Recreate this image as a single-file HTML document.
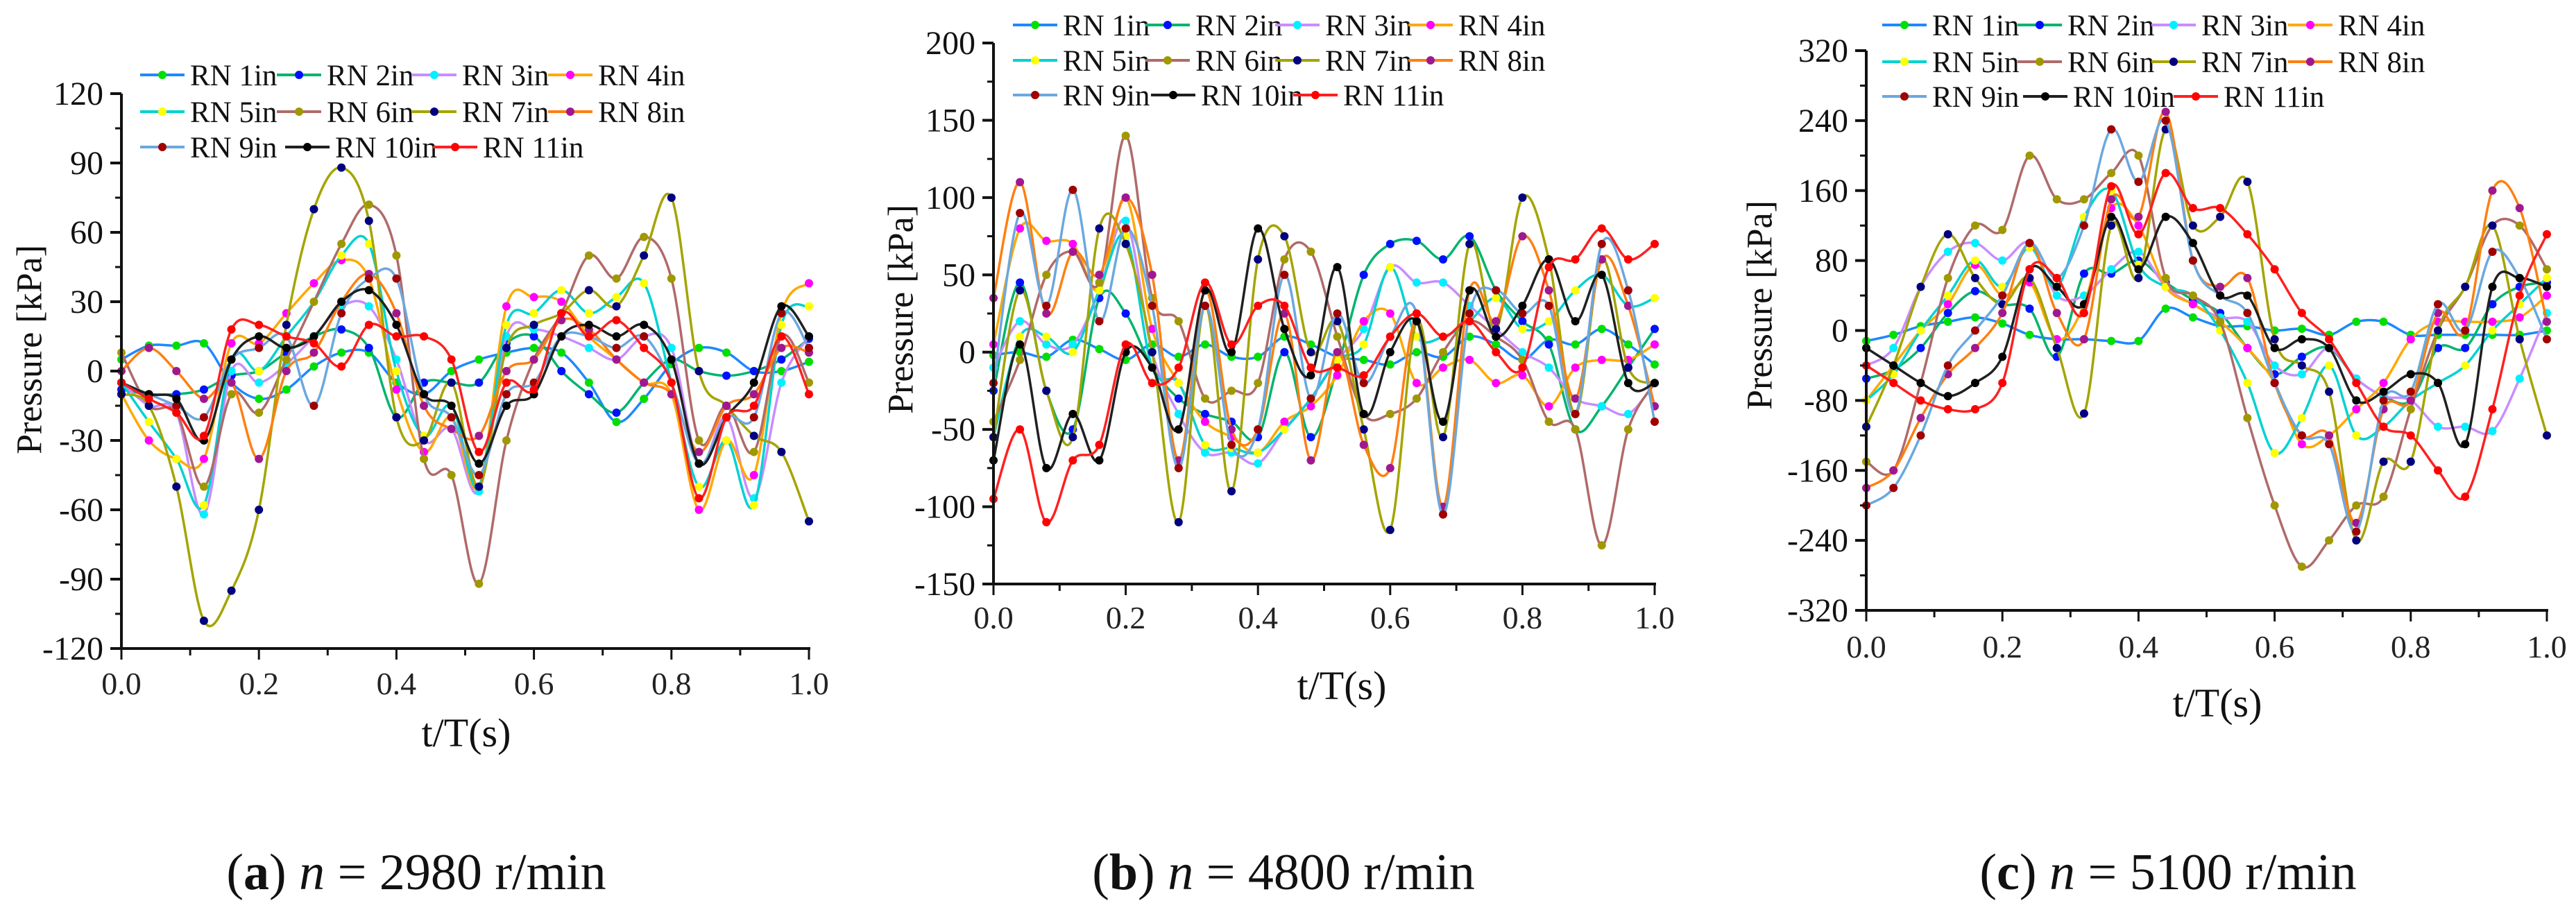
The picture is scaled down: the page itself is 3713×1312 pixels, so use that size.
<!DOCTYPE html>
<html><head><meta charset="utf-8"><style>
html,body{margin:0;padding:0;background:#fff;}
svg{display:block;font-family:"Liberation Serif",serif;}
</style></head><body>
<svg id="fig" width="3713" height="1312" viewBox="0 0 3713 1312" xmlns="http://www.w3.org/2000/svg"></svg>
<script>
// shared time samples (t/T)
const tValues = [0,.04,.08,.12,.16,.2,.24,.28,.32,.36,.4,.44,.48,.52,.56,.6,.64,.68,.72,.76,.8,.84,.88,.92,.96,1];
const seriesNames = ["RN 1in","RN 2in","RN 3in","RN 4in","RN 5in","RN 6in","RN 7in","RN 8in","RN 9in","RN 10in","RN 11in"];
const xTickLabels = ["0.0","0.2","0.4","0.6","0.8","1.0"];
const yTicksA = [-120,-90,-60,-30,0,30,60,90,120];
const yTicksB = [-150,-100,-50,0,50,100,150,200];
const yTicksC = [-320,-240,-160,-80,0,80,160,240,320];
// panel (a) n=2980
const a1 = [5,11,11,12,-5,-12,-8,2,8,8,-5,-10,0,5,8,10,8,-5,-22,-12,3,10,8,0,0,4];
const a2 = [-8,-10,-10,-8,-2,0,8,15,18,10,-20,-5,-5,-5,12,15,0,-10,-18,-5,5,0,-2,0,5,14];
const a3 = [-5,-15,-18,-62,0,-5,3,15,28,28,5,-30,-25,-52,15,18,15,10,5,15,10,-40,-20,-55,-5,15];
const a4 = [-10,-30,-38,-38,12,12,25,38,48,40,-8,-35,-20,-50,28,32,30,15,5,-5,-10,-60,-30,-45,25,38];
const a5 = [-5,-22,-38,-58,5,0,15,30,50,55,0,-28,-15,-50,20,25,35,25,32,38,-5,-50,-30,-58,20,28];
const a6 = [8,-15,-18,-50,-10,-18,5,30,55,72,50,-38,-45,-92,-30,5,25,50,40,58,40,-30,-15,-35,15,-5];
const a7 = [-10,-15,-50,-108,-95,-60,20,70,88,65,-20,-30,-5,-50,10,20,25,35,28,50,75,0,-15,-28,-35,-65];
const a8 = [0,10,0,-12,-5,-38,0,8,30,42,25,-15,-25,-28,0,5,22,18,5,-5,-10,-35,-15,-10,10,8];
const a9 = [-5,-10,-15,-20,5,10,15,-15,25,40,40,-10,-20,-45,-10,-5,15,15,10,15,-5,-40,-20,-20,25,10];
const a10 = [-5,-10,-12,-30,5,15,10,15,30,35,20,-10,-15,-40,-15,-10,15,20,15,20,5,-40,-20,-5,28,15];
const a11 = [-5,-12,-18,-28,18,20,15,12,2,20,15,15,5,-35,-5,-8,25,15,22,10,-5,-55,-20,-15,15,-10];
// panel (b) n=4800
const b1 = [-2,0,-3,8,2,-5,5,-3,5,-3,-3,10,5,-3,-5,-8,0,-3,10,5,-5,8,5,15,5,-8];
const b2 = [-25,45,-25,-50,35,25,-10,-30,-40,-45,-55,0,-55,-10,50,70,72,60,75,40,20,5,-50,-35,-10,15];
const b3 = [-10,20,5,5,40,85,0,-40,-65,-65,-72,-50,-30,-5,15,55,45,45,30,15,0,-10,-30,-35,-40,-20];
const b4 = [5,80,72,70,40,100,15,-20,-45,-55,-65,-45,-35,-15,20,25,-20,-10,-5,-20,-15,-35,-10,-5,-5,5];
const b5 = [-55,10,10,0,40,75,-10,-20,-60,-62,-65,-50,-30,-5,5,55,10,10,20,35,15,20,40,50,30,35];
const b6 = [-45,-5,50,65,45,140,35,20,-30,-25,-20,60,65,10,-40,-40,-30,0,20,10,-5,-45,-50,-125,-50,-20];
const b7 = [-55,40,-25,-55,80,70,0,-110,30,-90,60,75,0,20,-50,-115,20,-55,70,15,100,60,-40,60,-10,-20];
const b8 = [35,110,25,65,50,100,50,-70,40,-50,-50,25,-70,0,-60,-75,20,-100,40,20,75,40,-30,60,30,-35];
const b9 = [-20,90,30,105,20,80,30,-75,30,-60,-50,50,-30,25,-20,10,25,-105,25,40,25,30,-40,70,40,-45];
const b10 = [-70,5,-75,-40,-70,0,-10,-50,40,0,80,15,-15,55,-40,0,20,-45,40,10,30,60,20,50,-20,-20];
const b11 = [-95,-50,-110,-70,-60,5,-20,-10,45,5,30,30,-10,-10,-15,10,25,10,20,0,-10,55,60,80,60,70];
// panel (c) n=5100
const c1 = [-12,-5,5,10,15,8,-5,-10,-10,-12,-12,25,15,5,5,0,2,-5,10,10,-5,-5,-5,-5,-5,0];
const c2 = [-55,-45,-20,20,45,30,25,-30,65,65,80,55,35,20,-20,-50,-30,-20,-55,-75,-80,-20,-20,30,50,55];
const c3 = [-40,-20,50,90,100,80,100,40,40,70,90,50,30,15,10,-40,-50,-20,-55,-75,-80,-110,-110,-115,-55,20];
const c4 = [-80,-40,0,30,75,40,55,-10,30,140,120,50,30,10,-20,-60,-130,-120,-90,-60,-10,10,10,10,15,40];
const c5 = [-80,-50,0,40,80,50,95,50,130,160,75,50,40,0,-60,-140,-100,-40,-120,-110,-80,-60,-40,0,30,60];
const c6 = [-150,-160,-60,60,120,115,200,150,150,180,200,60,40,10,-100,-200,-270,-240,-200,-190,-90,0,50,120,120,70];
const c7 = [-110,-40,50,110,60,30,60,-20,-95,120,60,230,120,130,170,-10,-40,-70,-240,-150,-150,0,50,120,-10,-120];
const c8 = [-180,-160,-100,-50,-20,20,100,20,-10,150,130,250,80,50,60,-60,-120,-120,-220,-90,-80,20,0,160,140,10];
const c9 = [-200,-180,-120,-40,0,40,100,60,120,230,170,240,80,40,20,-60,-120,-130,-230,-80,-70,30,0,90,60,-10];
const c10 = [-20,-40,-60,-75,-60,-30,70,50,30,130,70,130,100,40,40,-20,-10,-20,-80,-70,-50,-60,-130,50,60,50];
const c11 = [-40,-60,-80,-90,-90,-60,70,60,20,165,110,180,140,140,110,70,20,-10,-60,-110,-120,-160,-190,-90,40,110];

const lineColors = ["#1e88ff","#00b46e","#c88cff","#ffa800","#00d2d2","#b06a6a","#a4a400","#ff7f10","#6aa8e0","#202020","#ff2020"];
const markColors = ["#00e000","#0010ff","#00f0ff","#ff00ff","#ffff00","#a09800","#000080","#a01890","#a00000","#000000","#ff0000"];

const NS="http://www.w3.org/2000/svg";
const svg=document.getElementById('fig');
function mk(tag,attrs,parent){const e=document.createElementNS(NS,tag);for(const k in attrs)e.setAttribute(k,attrs[k]);(parent||svg).appendChild(e);return e;}

const panels=[
 {id:'a',x0:175,x1:1166,y0:135,y1:935,min:-120,max:120,ticks:yTicksA,data:[a1,a2,a3,a4,a5,a6,a7,a8,a9,a10,a11],
  xl:985,ylab:[43,504],xtitle:[672,1058],cap:[600,'a','2980'],
  leg:[[202,108],[399,108],[594,108],[790,108],[202,161],[399,161],[594,161],[790,161],[202,212],[411,212],[624,212]]},
 {id:'b',x0:1432,x1:2385,y0:62,y1:842,min:-150,max:200,ticks:yTicksB,data:[b1,b2,b3,b4,b5,b6,b7,b8,b9,b10,b11],
  xl:890,ylab:[1299,446],xtitle:[1934,990],cap:[1850,'b','4800'],
  leg:[[1460,36],[1651,36],[1838,36],[2030,36],[1460,87],[1651,87],[1838,87],[2030,87],[1460,137],[1659,137],[1864,137]]},
 {id:'c',x0:2690,x1:3671,y0:73,y1:880,min:-320,max:320,ticks:yTicksC,data:[c1,c2,c3,c4,c5,c6,c7,c8,c9,c10,c11],
  xl:932,ylab:[2537,440],xtitle:[3196,1015],cap:[3125,'c','5100'],
  leg:[[2713,36],[2908,36],[3101,36],[3298,36],[2713,89],[2908,89],[3101,89],[3298,89],[2713,139],[2916,139],[3133,139]]}
];

function smoothPath(pts){
  let d='M'+pts[0][0].toFixed(1)+','+pts[0][1].toFixed(1);
  for(let i=0;i<pts.length-1;i++){
    const p0=pts[Math.max(0,i-1)],p1=pts[i],p2=pts[i+1],p3=pts[Math.min(pts.length-1,i+2)];
    const c1x=p1[0]+(p2[0]-p0[0])/6,c1y=p1[1]+(p2[1]-p0[1])/6;
    const c2x=p2[0]-(p3[0]-p1[0])/6,c2y=p2[1]-(p3[1]-p1[1])/6;
    d+=' C'+c1x.toFixed(1)+','+c1y.toFixed(1)+' '+c2x.toFixed(1)+','+c2y.toFixed(1)+' '+p2[0].toFixed(1)+','+p2[1].toFixed(1);
  }
  return d;
}

panels.forEach(P=>{
  const g=mk('g',{});
  
  
  const xs=t=>P.x0+(P.x1-P.x0)*t;
  const ys=v=>P.y1-(P.y1-P.y0)*(v-P.min)/(P.max-P.min);
  // series
  P.data.forEach((vals,si)=>{
    const sg=mk('g',{},g);
    
    
    const pts=tValues.map((t,i)=>[xs(t),ys(vals[i])]);
    mk('path',{d:smoothPath(pts),fill:'none',stroke:lineColors[si],'stroke-width':3.5,'stroke-linejoin':'round'},sg);
    pts.forEach(p=>{
      const c=mk('circle',{cx:p[0],cy:p[1],r:6,fill:markColors[si]},sg);
      
      
    });
  });
  // axes
  const ax=mk('g',{stroke:'#111','stroke-width':4,fill:'none'},g);
  
  
  mk('line',{x1:P.x0,y1:P.y0,x2:P.x0,y2:P.y1+2},ax);
  mk('line',{x1:P.x0-2,y1:P.y1,x2:P.x1+2,y2:P.y1},ax);
  P.ticks.forEach((v,i)=>{
    const y=ys(v);
    mk('line',{x1:P.x0-16,y1:y,x2:P.x0,y2:y},ax);
    if(i<P.ticks.length-1){const ym=ys((v+P.ticks[i+1])/2);mk('line',{x1:P.x0-9,y1:ym,x2:P.x0,y2:ym,'stroke-width':3},ax);}
    const tx=mk('text',{x:P.x0-26,y:y+16,'text-anchor':'end','font-size':48,fill:'#111',stroke:'none'},g);
    tx.textContent=String(v);
    
    
  });
  for(let k=0;k<=10;k++){
    const x=xs(k/10);
    mk('line',{x1:x,y1:P.y1,x2:x,y2:P.y1+(k%2?10:16),'stroke-width':3},ax);
  }
  xTickLabels.forEach((lab,k)=>{
    const tx=mk('text',{x:xs(k/5),y:P.xl+16,'text-anchor':'middle','font-size':46,fill:'#222'},g);
    tx.textContent=lab;
    
    
  });
  const yl=mk('text',{x:P.ylab[0],y:P.ylab[1],'text-anchor':'middle','font-size':52,fill:'#111',transform:'rotate(-90 '+P.ylab[0]+' '+P.ylab[1]+')','dominant-baseline':'central'},g);
  yl.textContent='Pressure [kPa]';
  
  
  const xt=mk('text',{x:P.xtitle[0],y:P.xtitle[1]+18,'text-anchor':'middle','font-size':58,fill:'#111'},g);
  xt.textContent='t/T(s)';
  
  
  // legend
  const lg=mk('g',{},g);
  
  
  P.leg.forEach((pos,si)=>{
    const e=mk('g',{},lg);
    
    
    mk('line',{x1:pos[0],y1:pos[1],x2:pos[0]+64,y2:pos[1],stroke:lineColors[si],'stroke-width':4},e);
    mk('circle',{cx:pos[0]+32,cy:pos[1],r:6,fill:markColors[si]},e);
    const t=mk('text',{x:pos[0]+72,y:pos[1]+15,'font-size':43,fill:'#111'},e);
    t.textContent=seriesNames[si];
  });
  // caption
  const cap=mk('text',{x:P.cap[0],y:1282,'text-anchor':'middle','font-size':74,fill:'#111'},svg);
  
  
  const s1=mk('tspan',{},cap);s1.textContent='(';
  const s2=mk('tspan',{'font-weight':'bold'},cap);s2.textContent=P.cap[1];
  const s3=mk('tspan',{},cap);s3.textContent=') ';
  const s4=mk('tspan',{'font-style':'italic'},cap);s4.textContent='n';
  const s5=mk('tspan',{},cap);s5.textContent=' = '+P.cap[2]+' r/min';
});
</script>
</body></html>
